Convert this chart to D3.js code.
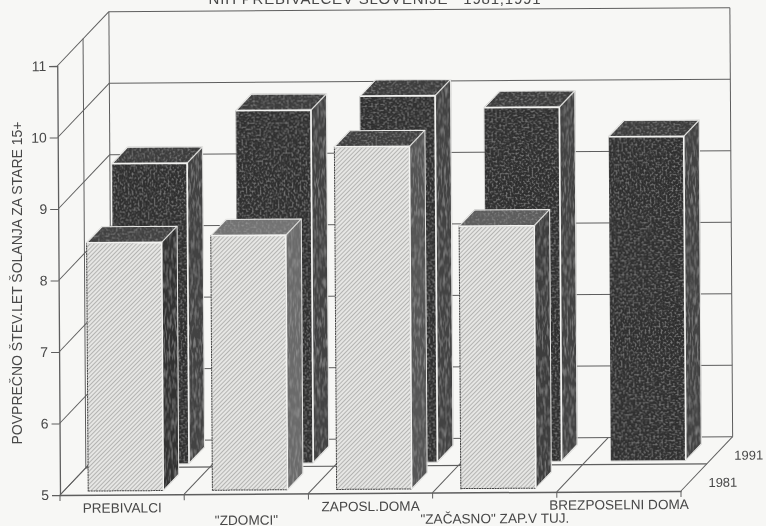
<!DOCTYPE html>
<html lang="en">
<head>
<meta charset="utf-8">
<script src="https://d3js.org/d3.v7.min.js"></script>
<style>
    html, body { margin: 0; padding: 0; background: #f7f7f5; overflow: hidden; }
    svg { display: block; filter: blur(0.7px); }
    text { font-family: "Liberation Sans", Arial, sans-serif; fill: #484848; white-space: pre; }
</style>
</head>
<body>
<div id="container"></div>
<script>
    // Values
    const categories = ["PREBIVALCI", "\"ZDOMCI\"", "ZAPOSL.DOMA", "\"ZAČASNO\" ZAP.V TUJ.", "BREZPOSELNI DOMA"];
    const years = ["1981", "1991"];
    const values1981 = [8.47, 8.56, 9.79, 8.67, null];
    const values1991 = [9.2, 9.93, 10.12, 9.95, 9.53];
    const yTicks = [5, 6, 7, 8, 9, 10, 11];
    const titleText = "NIH PREBIVALCEV SLOVENIJE   1981,1991";
    const yTitle = "POVPREČNO ŠTEV.LET ŠOLANJA ZA STARE 15+";

    // Scanned print: faces differ a little bar to bar
    const sideShade1981 = ["#333333", "#6a6a6a", "#555555", "#3c3c3c"];
    const topShade1981 = ["#404040", "#727272", "#3c3c3c", "#5c5c5c"];

    const width = 766, height = 526;
    const plotLeft = 60, plotRight = 681, plotBottom = 495, plotTop = 66;
    const depthX = 52, depthY = 54;   // oblique offset of the back wall

    const svg = d3.select("#container").append("svg")
        .attr("width", width)
        .attr("height", height);

    svg.append("rect").attr("width", width).attr("height", height).attr("fill", "#f7f7f5");

    // Textures
    const defs = svg.append("defs");
    const hatch = defs.append("pattern")
        .attr("id", "hatch")
        .attr("width", 3).attr("height", 3)
        .attr("patternUnits", "userSpaceOnUse")
        .attr("patternTransform", "rotate(45)");
    hatch.append("rect").attr("width", 3).attr("height", 3).attr("fill", "#e6e6e4");
    hatch.append("rect").attr("width", 1).attr("height", 3).attr("fill", "#b4b4b2");

    function addGrain(id, freq, seed) {
        const f = defs.append("filter").attr("id", id)
            .attr("x", 0).attr("y", 0).attr("width", 1).attr("height", 1);
        f.append("feTurbulence")
            .attr("type", "fractalNoise")
            .attr("baseFrequency", freq)
            .attr("numOctaves", 2)
            .attr("seed", seed)
            .attr("result", "noise");
        f.append("feColorMatrix")
            .attr("in", "noise")
            .attr("type", "matrix")
            .attr("values", "0 0 0 0 0.5  0 0 0 0 0.5  0 0 0 0 0.5  1.1 0 0 0 -0.52")
            .attr("result", "spots");
        f.append("feComposite")
            .attr("in", "spots").attr("in2", "SourceAlpha")
            .attr("operator", "in")
            .attr("result", "clipped");
        const m = f.append("feMerge");
        m.append("feMergeNode").attr("in", "SourceGraphic");
        m.append("feMergeNode").attr("in", "clipped");
    }
    addGrain("grain", "0.5", 4);
    addGrain("streak", "0.6 0.1", 9);

    // Scales
    var x = d3.scaleBand()
        .domain(categories)
        .range([plotLeft, plotRight])
        .paddingInner(0.396)
        .paddingOuter(0.198);

    var y = d3.scaleLinear()
        .domain([5, 11])
        .range([plotBottom, plotTop]);

    const line = d3.line();

    // plot point: screen x at the front, value, depth 0..1
    function pt(px, v, d) {
        return [px + d * depthX, y(v) - d * depthY];
    }

    // the page was a little crooked on the scanner
    const chart = svg.append("g").attr("transform", "rotate(-0.37 " + plotLeft + " " + plotBottom + ")");

    const wallColor = "#5e5e5e";
    function seg(a, b, w) {
        chart.append("path").attr("d", line([a, b]))
            .attr("fill", "none").attr("stroke", wallColor).attr("stroke-width", w || 1);
    }

    // Walls and grid
    yTicks.forEach(function(t) {
        seg(pt(plotLeft, t, 0), pt(plotLeft, t, 1));
        seg(pt(plotLeft, t, 1), pt(plotRight, t, 1));
    });
    seg(pt(plotLeft, 5, 1), pt(plotLeft, 11, 1));
    seg(pt(plotRight, 5, 1), pt(plotRight, 11, 1));
    seg(pt(plotLeft, 5, 0.5), pt(plotLeft, 11, 0.5));

    // Floor
    const step = x.step();
    d3.range(0, categories.length + 1).forEach(function(i) {
        const fx = plotLeft + i * step;
        seg(pt(fx, 5, 0), pt(fx, 5, 1));
    });
    seg(pt(plotLeft, 5, 0.5), pt(plotRight, 5, 0.5), 1.2);

    // Axes
    const yAxis = chart.append("g")
        .attr("transform", "translate(" + plotLeft + ",0)")
        .call(d3.axisLeft(y).tickValues(yTicks).tickFormat(d3.format("d")).tickSize(8).tickPadding(3));
    yAxis.select(".domain").attr("stroke", wallColor).attr("stroke-width", 1.3);
    yAxis.selectAll(".tick line").attr("stroke", wallColor);
    yAxis.selectAll("text").attr("font-size", 14).style("font-family", "'Liberation Sans'").attr("fill", "#484848");

    const xBase = d3.scaleBand().domain(categories).range([plotLeft, plotRight]);
    const xAxis = chart.append("g")
        .attr("transform", "translate(0," + plotBottom + ")")
        .call(d3.axisBottom(xBase).tickSize(0).tickPadding(0));
    xAxis.select(".domain").attr("stroke", wallColor).attr("stroke-width", 1.5);
    xAxis.selectAll("text")
        .attr("font-size", 13.6)
        .attr("y", function(d, i) { return i % 2 ? 31 : 18; })
        .attr("dy", 0)
        .attr("fill", "#484848");

    // little ticks under the front edge
    d3.range(0, categories.length + 1).forEach(function(i) {
        const fx = plotLeft + i * step;
        seg([fx, plotBottom], [fx, plotBottom + 6]);
    });

    // Bars, back row first
    function drawBar(cat, v, d0, row, i) {
        const d1 = d0 + 0.3;
        const xa = x(cat), xb = xa + x.bandwidth();
        const g = chart.append("g");
        const lightBar = row === 0;

        // front
        g.append("path")
            .attr("d", line([pt(xa, 5, d0), pt(xb, 5, d0), pt(xb, v, d0), pt(xa, v, d0)]) + "Z")
            .attr("fill", lightBar ? "url(#hatch)" : "#2f2f2f")
            .attr("stroke", lightBar ? "#444" : "none")
            .attr("stroke-width", 1)
            .attr("stroke-dasharray", lightBar ? "2 0.6" : null)
            .attr("filter", lightBar ? null : "url(#grain)");

        // right side
        g.append("path")
            .attr("d", line([pt(xb, 5, d0), pt(xb, 5, d1), pt(xb, v, d1), pt(xb, v, d0)]) + "Z")
            .attr("fill", lightBar ? sideShade1981[i] : "#424242")
            .attr("filter", "url(#streak)");

        // top
        g.append("path")
            .attr("d", line([pt(xa, v, d0), pt(xb, v, d0), pt(xb, v, d1), pt(xa, v, d1)]) + "Z")
            .attr("fill", lightBar ? topShade1981[i] : "#3a3a3a")
            .attr("filter", "url(#grain)");

        // light edges around the side and top faces
        g.append("path")
            .attr("d", line([pt(xa, v, d0), pt(xb, v, d0), pt(xb, 5, d0)]))
            .attr("fill", "none").attr("stroke", "#f2f2f0").attr("stroke-width", 1.7);
        g.append("path")
            .attr("d", line([pt(xb, v, d0), pt(xb, v, d1)]))
            .attr("fill", "none").attr("stroke", "#dcdcda").attr("stroke-width", 1.2);
        g.append("path")
            .attr("d", line([pt(xa, v, d0), pt(xa, v, d1), pt(xb, v, d1), pt(xb, 5, d1), pt(xb, 5, d0)]))
            .attr("fill", "none").attr("stroke", "#e8e8e6").attr("stroke-width", 1);
    }

    categories.forEach(function(cat, i) { drawBar(cat, values1991[i], 0.57, 1, i); });
    categories.forEach(function(cat, i) {
        if (values1981[i] !== null) drawBar(cat, values1981[i], 0.07, 0, i);
    });

    // Depth labels
    years.forEach(function(yr, i) {
        const p = pt(plotRight, 5, i ? 0.72 : 0.22);
        chart.append("text")
            .attr("x", p[0] + 16).attr("y", p[1] + 8)
            .attr("font-size", 13)
            .text(yr);
    });

    // Title, cut off by the top of the scan
    svg.append("text")
        .attr("x", 375).attr("y", 4)
        .attr("text-anchor", "middle")
        .attr("font-size", 15)
        .attr("letter-spacing", 0.8)
        .text(titleText);

    svg.append("text")
        .attr("transform", "translate(22,283) rotate(-90)")
        .attr("text-anchor", "middle")
        .attr("font-size", 14)
        .text(yTitle);
</script>
</body>
</html>
